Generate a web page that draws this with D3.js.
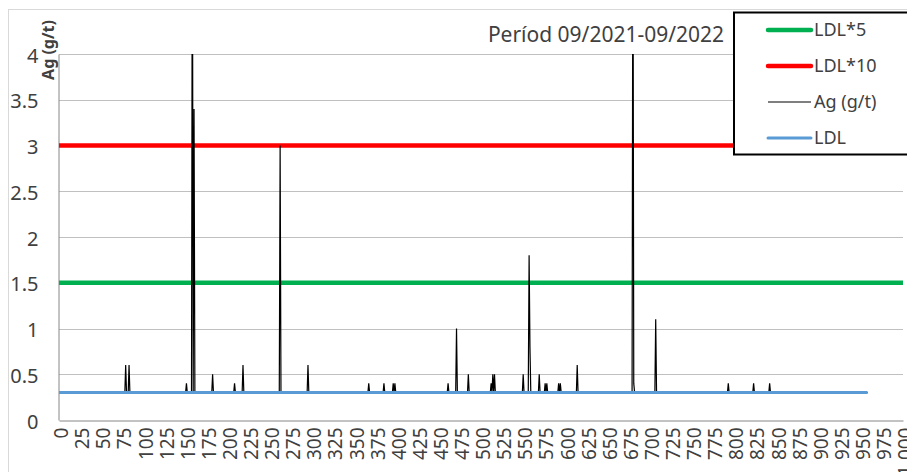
<!DOCTYPE html>
<html>
<head>
<meta charset="utf-8">
<script src="https://cdn.jsdelivr.net/npm/d3@7"></script>
<style>
  body { margin: 0; background: #fff; }
  #chart { width: 907px; height: 472px; }
  text { font-family: "Noto Sans", "Open Sans", sans-serif; fill: #404040; }
</style>
</head>
<body>
<div id="chart"><svg></svg></div>
<script>
// margins of the plot area
var T = 54;
var L = 59;
var R = 4;
var B = 52;
var W = 907, H = 472;

// data
var titleText = "Períod 09/2021-09/2022";
var yTitle = "Ag (g/t)";
var xTickLabels = [0, 25, 50, 75, 100, 125, 150, 175, 200, 225, 250, 275, 300, 325, 350, 375, 400,
    425, 450, 475, 500, 525, 550, 575, 600, 625, 650, 675, 700, 725, 750, 775, 800, 825, 850, 875,
    900, 925, 950, 975, 1000];
var yTickLabels = [0, 0.5, 1, 1.5, 2, 2.5, 3, 3.5, 4];

var ldl = 0.3;            // LDL value, below-LDL samples sit on it
var ldl5 = 1.5;
var ldl10 = 3;
var sampleCount = 959;    // samples 0..958
var limitEnd = 1000;      // LDL*5 / LDL*10 run to the end of the axis

// samples above LDL (index, Ag g/t)
var agIndex = [79, 83, 151, 158, 160, 182, 208, 218, 262, 295, 367, 385, 396, 398, 461, 471, 485,
    512, 514, 516, 550, 557, 558, 569, 576, 578, 592, 594, 614, 680, 681, 707, 793, 823, 842];
var agValue = [0.6, 0.6, 0.4, 6, 3.4, 0.5, 0.4, 0.6, 3.0, 0.6, 0.4, 0.4, 0.4, 0.4, 0.4, 1.0, 0.5,
    0.4, 0.5, 0.5, 0.5, 1.8, 0.8, 0.5, 0.4, 0.4, 0.4, 0.4, 0.6, 6, 0.4, 1.1, 0.4, 0.4, 0.4];

var legendNames = ["LDL*5", "LDL*10", "Ag (g/t)", "LDL"];
var legendColors = ["#00B050", "#FF0000", "#000000", "#5B9BD5"];
var legendWidths = [4.5, 4.5, 1.2, 3];

var ag = d3.range(sampleCount).map(function(i) { return [i, ldl]; });
agIndex.forEach(function(idx, k) { ag[idx][1] = agValue[k]; });

var svg = d3.select("#chart svg").attr("width", W).attr("height", H);

var x = d3.scaleLinear().domain([0, 1000]).range([L, W - R]);
var y = d3.scaleLinear().domain([0, 4]).range([H - B, T]);

// outer chart border
svg.append("rect")
    .attr("x", 8.5).attr("y", 9.5)
    .attr("width", W).attr("height", H)
    .attr("fill", "none").attr("stroke", "#d9d9d9");

// gridlines
svg.append("g").attr("class", "grid")
    .selectAll("line").data(yTickLabels.slice(1)).enter()
    .append("line")
    .attr("x1", x(0)).attr("x2", x(1000))
    .attr("y1", function(d) { return Math.round(y(d)) + 0.5; })
    .attr("y2", function(d) { return Math.round(y(d)) + 0.5; })
    .attr("stroke", "#c0c0c0").attr("stroke-width", 1);

// axes
var gyAxis = svg.append("g")
    .attr("class", "y-axis axis")
    .attr("transform", "translate(" + (L - 0.5) + ",0)")
    .call(d3.axisLeft(y).tickValues(yTickLabels).tickSize(0).tickPadding(20)
        .tickFormat(function(d) { return d; }));
gyAxis.select(".domain").attr("stroke", "#868686");
gyAxis.selectAll("text").attr("font-size", "20px").attr("fill", "#404040")
    .attr("font-family", "Noto Sans").attr("dy", "0.4em");

var gxAxis = svg.append("g")
    .attr("class", "x-axis axis")
    .attr("transform", "translate(0," + (H - B + 0.5) + ")")
    .call(d3.axisBottom(x).tickValues(xTickLabels).tickSize(0).tickPadding(0));
gxAxis.select(".domain").attr("stroke", "#868686");
gxAxis.selectAll("text")
    .attr("font-size", "19px").attr("fill", "#404040").attr("font-family", "Noto Sans")
    .attr("text-anchor", "end")
    .attr("transform", "translate(2,7) rotate(-90)")
    .attr("x", 0).attr("y", 0).attr("dy", "0.35em");

// clip to plot area
svg.append("clipPath").attr("id", "plot-clip")
    .append("rect").attr("x", L).attr("y", T).attr("width", W - R - L).attr("height", H - B - T);

var line = d3.line().x(function(d) { return x(d[0]); }).y(function(d) { return y(d[1]); });
var gData = svg.append("g").attr("class", "data").attr("clip-path", "url(#plot-clip)");

gData.append("path").datum([[0, ldl5], [limitEnd, ldl5]])
    .attr("d", line).attr("fill", "none").attr("stroke", legendColors[0]).attr("stroke-width", legendWidths[0]);
gData.append("path").datum([[0, ldl10], [limitEnd, ldl10]])
    .attr("d", line).attr("fill", "none").attr("stroke", legendColors[1]).attr("stroke-width", legendWidths[1]);
gData.append("path").datum(ag)
    .attr("d", line).attr("fill", "none").attr("stroke", legendColors[2]).attr("stroke-width", legendWidths[2])
    .attr("stroke-linejoin", "miter");
gData.append("path").datum([[0, ldl], [sampleCount - 1, ldl]])
    .attr("d", line).attr("fill", "none").attr("stroke", legendColors[3]).attr("stroke-width", legendWidths[3]);

// title
svg.append("text")
    .attr("x", 606).attr("y", 42)
    .attr("text-anchor", "middle")
    .attr("font-size", "21px")
    .attr("fill", "#262626")
    .text(titleText);

// y axis title
svg.append("text")
    .attr("transform", "translate(54,50) rotate(-90)")
    .attr("text-anchor", "middle")
    .attr("font-size", "16px")
    .attr("font-weight", "bold")
    .attr("fill", "#000")
    .text(yTitle);

// legend
var gLegend = svg.append("g").attr("class", "legend");
gLegend.append("rect")
    .attr("x", 734).attr("y", 12.5).attr("width", 200).attr("height", 142)
    .attr("fill", "#fff").attr("stroke", "#000").attr("stroke-width", 2);
var rows = gLegend.selectAll("g.row").data(legendNames).enter()
    .append("g").attr("class", "row")
    .attr("transform", function(d, i) { return "translate(0," + (30 + i * 36) + ")"; });
rows.append("line")
    .attr("x1", 768).attr("x2", 811).attr("y1", 0).attr("y2", 0)
    .attr("stroke", function(d, i) { return legendColors[i]; })
    .attr("stroke-width", function(d, i) { return legendWidths[i]; })
    .attr("stroke-linecap", function(d, i) { return legendWidths[i] > 2 ? "round" : "butt"; });
rows.append("text")
    .attr("x", 814).attr("y", 0).attr("dy", "0.35em")
    .attr("font-size", "18px").attr("fill", "#262626")
    .text(function(d) { return d; });
</script>
</body>
</html>
